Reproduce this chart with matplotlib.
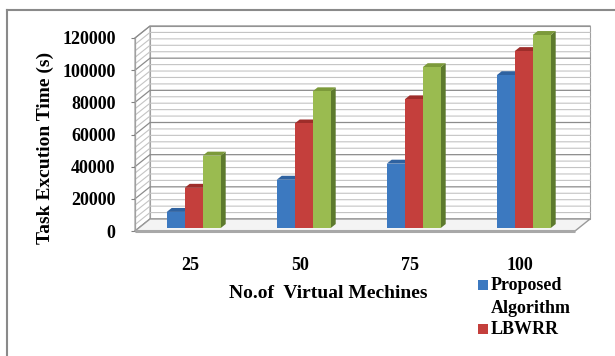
import matplotlib
matplotlib.use("Agg")
import matplotlib.pyplot as plt
from matplotlib.patches import Polygon, Rectangle
from matplotlib.lines import Line2D

# ---- data -------------------------------------------------------------
categories = ["25", "50", "75", "100"]
proposed = [10000, 30000, 40000, 95000]
lbwrr = [25000, 65000, 80000, 110000]
series_c = [45000, 85000, 100000, 120000]
legend_labels = ["Proposed\nAlgorithm", "LBWRR"]
y_ticks = [0, 20000, 40000, 60000, 80000, 100000, 120000]
minor_step = 4000

# ---- styling ----------------------------------------------------------
W, H, DPI = 615, 356, 100
FONT = ["Liberation Serif", "DejaVu Serif"]
FS = 13
FS_TITLE = 14
front_cols = ["#3C79C0", "#C43F3C", "#9ABB50"]
top_cols = ["#2F62A0", "#9E2D2A", "#7C9A3A"]
side_cols = ["#2A568C", "#8A2A27", "#5D7A2D"]

fig = plt.figure(figsize=(W / DPI, H / DPI), dpi=DPI)
fig.patch.set_facecolor("white")

# front plane of the 3-D box, in pixels
px_left, px_right, px_bottom, px_top = 135, 575, 231, 38
ax = fig.add_axes([px_left / W, 1 - px_bottom / H,
                   (px_right - px_left) / W, (px_bottom - px_top) / H])
ax.set_xlim(-0.5, len(categories) - 0.5)
ax.set_ylim(0, y_ticks[-1])
ax.patch.set_visible(False)
for s in ax.spines.values():
    s.set_visible(False)

# depth of the box expressed in data units
DX = 15 / (px_right - px_left) * len(categories)
DY = 12 / (px_bottom - px_top) * y_ticks[-1]


def proj(x, v, d):
    return (x + d * DX, v + d * DY)


x0, x1 = -0.5, len(categories) - 0.5
vmax = y_ticks[-1]
grid_minor = "#C4C4C4"
grid_major = "#8C8C8C"
edge = "#A0A0A0"

# back wall and side wall
back = Polygon([proj(x0, 0, 1), proj(x1, 0, 1), proj(x1, vmax, 1), proj(x0, vmax, 1)],
               closed=True, facecolor="white", edgecolor=edge, lw=0.8, clip_on=False, zorder=1)
ax.add_patch(back)
side = Polygon([proj(x0, 0, 0), proj(x0, vmax, 0), proj(x0, vmax, 1), proj(x0, 0, 1)],
               closed=True, facecolor="white", edgecolor=edge, lw=0.8, clip_on=False, zorder=1)
ax.add_patch(side)

# gridlines on both walls
v = 0
while v <= vmax:
    major = v % y_ticks[1] == 0
    pts = [proj(x0, v, 0), proj(x0, v, 1), proj(x1, v, 1)]
    ax.plot([p[0] for p in pts], [p[1] for p in pts],
            color=grid_major if major else grid_minor,
            lw=0.9 if major else 0.8, clip_on=False, zorder=2)
    v += minor_step

# floor
floor = Polygon([proj(x0, 0, 0), proj(x1, 0, 0), proj(x1, 0, 1), proj(x0, 0, 1)],
                closed=True, facecolor="#F4F4F4", edgecolor="#9A9A9A", lw=1.0,
                clip_on=False, zorder=2)
ax.add_patch(floor)
ax.plot([x0, x1], [0, 0], color="#A8A8A8", lw=2.2, clip_on=False, zorder=2,
        solid_capstyle="butt")
ax.plot([x0, x0], [0, vmax], color=edge, lw=0.9, clip_on=False, zorder=2)

# bars
bar_w = 18 / (px_right - px_left) * len(categories)
f0, f1 = 0.25, 0.58
series = [proposed, lbwrr, series_c]
for i in range(len(categories)):
    for j, vals in enumerate(series):
        val = vals[i]
        a = i + (j - 1.5) * bar_w
        b = a + bar_w
        z = 5 + i * 3 + j
        ax.add_patch(Polygon([proj(b, 0, f0), proj(b, val, f0), proj(b, val, f1), proj(b, 0, f1)],
                             closed=True, facecolor=side_cols[j], edgecolor="none",
                             clip_on=False, zorder=z))
        ax.add_patch(Polygon([proj(a, val, f0), proj(b, val, f0), proj(b, val, f1), proj(a, val, f1)],
                             closed=True, facecolor=top_cols[j], edgecolor="none",
                             clip_on=False, zorder=z))
        ax.add_patch(Polygon([proj(a, 0, f0), proj(b, 0, f0), proj(b, val, f0), proj(a, val, f0)],
                             closed=True, facecolor=front_cols[j], edgecolor="none",
                             clip_on=False, zorder=z))

# axes ticks and labels
ax.set_yticks(y_ticks)
ax.set_yticklabels([str(t) for t in y_ticks], fontfamily=FONT, fontweight="bold", fontsize=FS)
ax.tick_params(axis="y", length=3, width=0.8, color="#808080", pad=11)
ax.set_xticks(range(len(categories)))
ax.set_xticklabels(categories, fontfamily=FONT, fontweight="bold", fontsize=FS)
ax.tick_params(axis="x", length=0, pad=19)

fig.text(328 / W, 1 - 293 / H, "No.of  Virtual Mechines", ha="center", va="center",
         family=FONT, fontweight="bold", fontsize=FS_TITLE)
fig.text(45 / W, 1 - 148 / H, "Task Excution Time (s)", ha="center", va="center",
         rotation=90, family=FONT, fontweight="bold", fontsize=FS_TITLE)

# legend
leg_rows = [285, 329]
for k, (lab, yy) in enumerate(zip(legend_labels, leg_rows)):
    fig.add_artist(Rectangle((478 / W, 1 - (yy + 5) / H), 10 / W, 10 / H,
                             transform=fig.transFigure, facecolor=front_cols[k],
                             edgecolor="none"))
    fig.text(491 / W, 1 - (yy - 8) / H, lab, ha="left", va="top", family=FONT,
             fontweight="bold", fontsize=FS, linespacing=1.45)

# chart border
bc = "#8A8A8A"
fig.add_artist(Line2D([7 / W, 1], [1 - 10 / H, 1 - 10 / H], transform=fig.transFigure,
                      color=bc, lw=1.5))
fig.add_artist(Line2D([7 / W, 7 / W], [0, 1 - 10 / H], transform=fig.transFigure,
                      color=bc, lw=1.5))

fig.savefig("out.png", dpi=DPI)
